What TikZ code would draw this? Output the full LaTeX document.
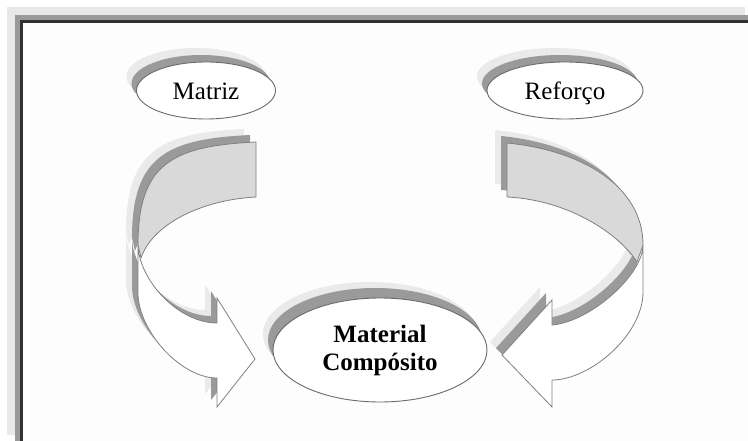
\documentclass[tikz,border=0pt]{standalone}
\usepackage{fontspec}
\setmainfont{Liberation Serif}
\usetikzlibrary{shapes.geometric}
\definecolor{facegray}{HTML}{D9D9D9}
\definecolor{shmid}{HTML}{9A9A9A}
\definecolor{shlight}{HTML}{EAEAEA}
\definecolor{edgegray}{HTML}{808080}
\definecolor{ellgray}{HTML}{6A6A6A}
\definecolor{framelight}{HTML}{E8E8E8}
\definecolor{framemid}{HTML}{999999}
\definecolor{framedark}{HTML}{303030}
\definecolor{bgwhite}{HTML}{FDFDFD}
\tikzset{
  ellbox/.style n args={4}{ellipse, draw=ellgray, line width=0.9pt, fill=white, inner sep=0pt,
    preaction={fill=shlight, draw=none, transform canvas={shift={(#3,#4)}}},
    preaction={fill=shmid, draw=none, transform canvas={shift={(#1,#2)}}}},
  backface/.style={fill=facegray, draw=edgegray, line width=0.8pt, line join=round},
  frontface/.style={fill=white, draw=edgegray, line width=0.8pt, line join=miter},
  lbl/.style={font=\fontsize{25}{28}\selectfont}
}
\def\lbackpath{(256,142) .. controls (173,146) and (138,163) .. (138,245) -- (141,258) .. controls (152,225) and (200,200) .. (256,197) -- cycle}
\def\lfrontpath{(138,245) -- (138,293) .. controls (138,330) and (180,378) .. (217,378) -- (217,407) -- (255,359) -- (217,298) -- (217,323) .. controls (178,323) and (139,280) .. (138,245) -- cycle}
\def\rbackpath{(507,143) .. controls (580,150) and (643,185) .. (643,245) -- (637,262) .. controls (620,235) and (570,200) .. (507,197) -- cycle}
\def\rfrontpath{(643,245) -- (643,292) .. controls (643,335) and (590,380) .. (552,380) -- (552,407) -- (502,355) -- (552,300) -- (552,325) .. controls (590,322) and (643,275) .. (643,245) -- cycle}
\begin{document}
\begin{tikzpicture}[x=1pt,y=-1pt]
\useasboundingbox (0,0) rectangle (748,441);
% frame
\fill[white] (0,0) rectangle (748,441);
\fill[framelight] (7,7) rectangle (745,435);
\fill[framemid] (15,15) rectangle (748,441);
\fill[framedark] (20,20) rectangle (748,441);
\fill[bgwhite] (23,23) rectangle (748,441);
% arrow shadows
\foreach \dx/\dy/\col in {-12/-13/shlight, -6/-7/shmid}{
  \begin{scope}[shift={(\dx,\dy)}]
    \fill[\col] \lbackpath;
    \fill[\col] \lfrontpath;
    \fill[\col] \rbackpath;
    \fill[\col] \rfrontpath;
  \end{scope}
}
% arrows
\path[backface] \lbackpath;
\path[frontface] \lfrontpath;
\path[backface] \rbackpath;
\path[frontface] \rfrontpath;
% ellipses
\node[ellbox={-5pt}{7pt}{-10pt}{14pt}, lbl, minimum width=139pt, minimum height=57pt, text height=19pt, text depth=0pt] (matriz) at (206,90.5) {Matriz};
\node[ellbox={-5pt}{7pt}{-10pt}{14pt}, lbl, minimum width=156pt, minimum height=57pt, text height=19pt, text depth=0pt] (reforco) at (565,90.5) {Reforço};
\node[ellbox={-5pt}{10pt}{-10pt}{16pt}, lbl, font=\fontsize{25}{28}\selectfont\bfseries, align=center, minimum width=214pt, minimum height=104pt] (comp) at (380,350) {Material\\Compósito};
\end{tikzpicture}
\end{document}
